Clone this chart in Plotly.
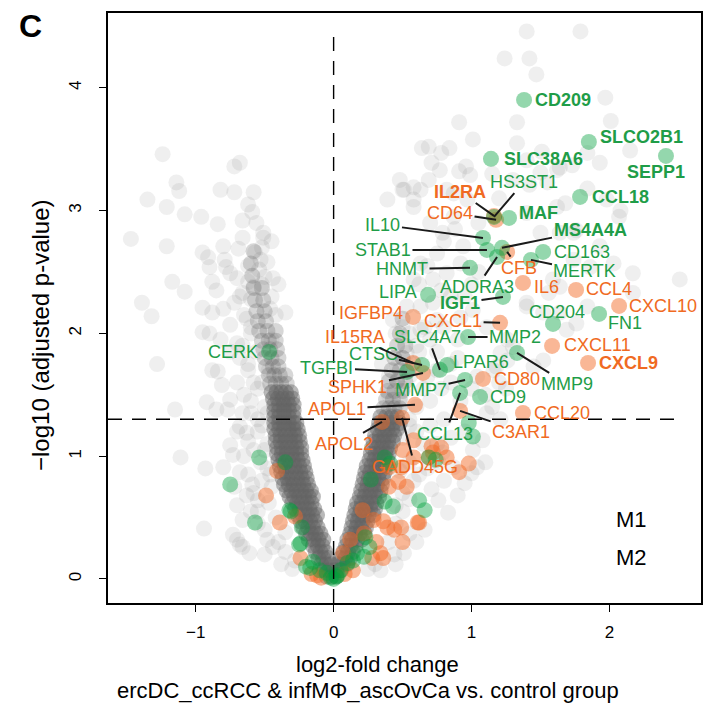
import math
import plotly.graph_objects as go

# ---------------- data ----------------
# M2 genes (green), labelled
m2_genes = ["CD209", "SLCO2B1", "SEPP1", "SLC38A6", "CCL18", "MAF", "HS3ST1", "IL10", "STAB1", "MS4A4A",
            "ADORA3", "CD163", "MERTK", "HNMT", "LIPA", "IGF1", "CD204", "FN1", "MMP2", "MMP9",
            "LPAR6", "MMP7", "CCL13", "CD9", "SLC4A7", "TGFBI", "CTSC", "CERK"]
m2_lfc = [1.381, 1.851, 2.410, 1.141, 1.787, 1.272, 1.163, 1.083, 1.112, 1.221,
          1.185, 1.519, 1.431, 0.989, 0.685, 1.228, 1.591, 1.925, 0.975, 1.330,
          0.823, 0.953, 0.917, 1.062, 0.771, 0.532, 0.641, -0.468]
m2_p = [3.902, 3.560, 3.446, 3.422, 3.112, 2.941, 2.949, 2.778, 2.680, 2.697,
        2.623, 2.664, 2.599, 2.534, 2.314, 2.297, 2.077, 2.159, 1.971, 1.841,
        1.743, 1.621, 1.515, 1.483, 1.703, 1.686, 1.743, 1.849]

# M1 genes (orange), labelled
m1_genes = ["IL2RA", "CD64", "CFB", "IL6", "CCL4", "CXCL10", "CXCL1", "CXCL11", "CXCL9", "CD80",
            "CCL20", "C3AR1", "IGFBP4", "IL15RA", "SPHK1", "APOL1", "APOL2", "GADD45G"]
m1_lfc = [1.163, 1.178, 1.258, 1.373, 1.758, 2.070, 1.207, 1.584, 1.845, 1.083,
          1.373, 0.917, 0.576, 0.576, 0.648, 0.590, 0.351, 0.496]
m1_p = [2.957, 2.925, 2.664, 2.411, 2.354, 2.224, 2.086, 1.898, 1.760, 1.629,
        1.352, 1.369, 2.134, 1.760, 1.678, 1.418, 1.279, 1.312]

bold_genes = ["CD209", "SLCO2B1", "SEPP1", "SLC38A6", "CCL18", "MAF", "MS4A4A", "IGF1", "IL2RA", "CXCL9"]

# M2 genes (green), not labelled
m2_other = [(-0.54, 0.99), (-0.35, 0.95), (-0.75, 0.77), (-0.57, 0.46), (-0.31, 0.55), (-0.23, 0.42),
            (-0.25, 0.28), (-0.15, 0.14), (-0.17, 0.09), (-0.02, 0.01), (-0.20, 0.10), (-0.10, 0.07),
            (-0.05, 0.05), (0.02, 0.02), (0.37, 0.99), (0.41, 0.94), (0.27, 0.81), (0.37, 0.63),
            (0.43, 0.59), (0.62, 0.64), (0.66, 0.56), (0.69, 0.99), (0.74, 0.97), (0.23, 0.34),
            (0.17, 0.21), (0.22, 0.18), (0.10, 0.13), (0.05, 0.07), (0.14, 0.15), (0.26, 0.26),
            (0.98, 1.27), (1.01, 1.16), (-0.24, 0.29), (-0.32, 0.56), (0.00, 0.00), (0.03, 0.03)]

# M1 genes (orange), not labelled
m1_other = [(-0.41, 0.88), (-0.49, 0.68), (-0.39, 0.46), (-0.28, 0.51), (-0.24, 0.17), (-0.16, 0.04),
            (-0.09, 0.01), (0.21, 0.56), (0.29, 0.48), (0.36, 0.47), (0.39, 0.42), (0.44, 0.40),
            (0.49, 0.42), (0.50, 0.30), (0.62, 0.46), (0.22, 0.37), (0.31, 0.30), (0.40, 0.75),
            (0.47, 0.79), (0.53, 0.75), (0.49, 0.91), (0.58, 0.99), (0.69, 0.99), (0.82, 0.99),
            (0.98, 0.94), (0.71, 1.08), (0.78, 1.07), (0.12, 0.32), (0.07, 0.21), (0.40, 0.91),
            (0.50, 1.05), (0.58, 1.13), (0.91, 0.87), (0.61, 0.46), (0.36, 0.17), (0.28, 0.17),
            (0.34, 0.21), (0.14, 0.07), (0.08, 0.04), (-0.12, 0.03), (0.72, 1.03)]

# other genes: dense V-shaped core, one row of log2FC values per -log10 p level
core_left_rows = [
    (0.02, [-0.05, -0.015, 0.02]),
    (0.07, [-0.07, -0.035, 0.0]),
    (0.12, [-0.09, -0.055, -0.02]),
    (0.17, [-0.11, -0.075, -0.04]),
    (0.22, [-0.13, -0.095, -0.06]),
    (0.27, [-0.15, -0.115, -0.08]),
    (0.32, [-0.18, -0.145, -0.11, -0.075]),
    (0.37, [-0.20, -0.165, -0.13, -0.095]),
    (0.42, [-0.22, -0.185, -0.15, -0.115]),
    (0.47, [-0.24, -0.205, -0.17, -0.135]),
    (0.52, [-0.26, -0.225, -0.19, -0.155, -0.12]),
    (0.57, [-0.28, -0.245, -0.21, -0.175, -0.14]),
    (0.62, [-0.30, -0.265, -0.23, -0.195, -0.16]),
    (0.67, [-0.32, -0.285, -0.25, -0.215, -0.18, -0.15]),
    (0.72, [-0.34, -0.305, -0.27, -0.235, -0.20, -0.165]),
    (0.77, [-0.36, -0.325, -0.29, -0.255, -0.22, -0.185]),
    (0.82, [-0.37, -0.335, -0.30, -0.265, -0.23, -0.195]),
    (0.87, [-0.38, -0.345, -0.31, -0.275, -0.24, -0.205]),
    (0.92, [-0.39, -0.355, -0.32, -0.285, -0.25, -0.215]),
    (0.97, [-0.40, -0.365, -0.33, -0.295, -0.26, -0.225]),
    (1.02, [-0.41, -0.375, -0.34, -0.305, -0.27, -0.235]),
    (1.07, [-0.41, -0.375, -0.34, -0.305, -0.27, -0.235]),
    (1.12, [-0.42, -0.385, -0.35, -0.315, -0.28, -0.245]),
    (1.17, [-0.42, -0.385, -0.35, -0.315, -0.28, -0.25]),
    (1.22, [-0.43, -0.395, -0.36, -0.325, -0.29, -0.26]),
    (1.27, [-0.43, -0.395, -0.36, -0.325, -0.29, -0.27]),
    (1.32, [-0.43, -0.395, -0.36, -0.325, -0.29]),
    (1.37, [-0.43, -0.395, -0.36, -0.325, -0.29]),
    (1.42, [-0.43, -0.395, -0.36, -0.325, -0.29]),
    (1.47, [-0.44, -0.405, -0.37, -0.335, -0.30]),
    (1.52, [-0.45, -0.415, -0.38, -0.345, -0.31]),
    (1.59, [-0.46, -0.42, -0.38, -0.34]),
    (1.66, [-0.47, -0.43, -0.39, -0.35]),
    (1.73, [-0.49, -0.44, -0.40]),
    (1.80, [-0.50, -0.45, -0.40]),
    (1.87, [-0.51, -0.46, -0.41]),
    (1.94, [-0.52, -0.47, -0.42]),
    (2.02, [-0.54, -0.48, -0.42]),
    (2.10, [-0.55, -0.49]),
    (2.18, [-0.56, -0.50]),
    (2.27, [-0.57, -0.51]),
    (2.37, [-0.58, -0.52]),
    (2.47, [-0.59]),
    (2.57, [-0.60]),
    (2.67, [-0.58]),
]
core_right_rows = [
    (0.07, [0.02, 0.055]),
    (0.12, [0.03, 0.065, 0.10]),
    (0.17, [0.05, 0.085, 0.12]),
    (0.22, [0.07, 0.105, 0.14]),
    (0.27, [0.09, 0.125, 0.16]),
    (0.32, [0.10, 0.135, 0.17, 0.205]),
    (0.37, [0.12, 0.155, 0.19, 0.225]),
    (0.42, [0.13, 0.165, 0.20, 0.235]),
    (0.47, [0.14, 0.175, 0.21, 0.245]),
    (0.52, [0.15, 0.185, 0.22, 0.255, 0.29]),
    (0.57, [0.16, 0.195, 0.23, 0.265, 0.30]),
    (0.62, [0.17, 0.205, 0.24, 0.275, 0.31]),
    (0.67, [0.19, 0.225, 0.26, 0.295, 0.33]),
    (0.72, [0.20, 0.235, 0.27, 0.305, 0.34]),
    (0.77, [0.21, 0.245, 0.28, 0.315, 0.35]),
    (0.82, [0.22, 0.255, 0.29, 0.325, 0.36]),
    (0.87, [0.23, 0.265, 0.30, 0.335, 0.37]),
    (0.92, [0.24, 0.275, 0.31, 0.345, 0.38]),
    (0.97, [0.26, 0.295, 0.33, 0.365, 0.39]),
    (1.02, [0.27, 0.305, 0.34, 0.375, 0.40]),
    (1.07, [0.28, 0.315, 0.35, 0.385, 0.41]),
    (1.12, [0.29, 0.325, 0.36, 0.395, 0.43]),
    (1.17, [0.30, 0.335, 0.37, 0.405, 0.44]),
    (1.22, [0.32, 0.355, 0.39, 0.425, 0.46]),
    (1.27, [0.33, 0.365, 0.40, 0.435, 0.48]),
    (1.32, [0.34, 0.38, 0.42, 0.46]),
    (1.39, [0.36, 0.40, 0.44, 0.48]),
    (1.46, [0.38, 0.43, 0.48]),
    (1.53, [0.39, 0.44, 0.50]),
    (1.61, [0.40, 0.46, 0.52]),
    (1.70, [0.42, 0.48, 0.54]),
    (1.80, [0.44, 0.50]),
    (1.90, [0.46, 0.52]),
    (2.00, [0.48]),
    (2.12, [0.50]),
]

# other genes, scattered around the core
grey_scatter = [
    (-1.24, 3.46), (-1.14, 3.23), (-1.12, 3.16), (-1.35, 3.09), (-1.21, 3.03), (-1.08, 2.97), (-0.96, 2.95),
    (-0.84, 2.89), (-1.47, 2.77), (-1.21, 2.71), (-0.72, 3.36), (-0.68, 3.39), (-0.82, 3.17), (-0.72, 3.15),
    (-0.58, 3.15), (-0.59, 2.99), (-0.66, 2.92), (-0.51, 2.82), (-0.51, 2.78), (-0.66, 2.78), (-0.80, 2.71),
    (-0.69, 2.69), (-0.95, 2.66), (-0.57, 2.66), (-0.90, 2.54), (-0.78, 2.54), (-0.79, 2.60), (-1.17, 2.42),
    (-1.08, 2.34), (-0.88, 2.42), (-0.85, 2.35), (-0.66, 2.33), (-0.58, 2.38), (-0.50, 2.46), (-1.39, 2.25),
    (-1.32, 2.14), (-0.95, 2.21), (-0.88, 2.17), (-0.35, 2.17), (-0.91, 2.62), (-0.75, 2.49), (-0.52, 2.70),
    (-0.53, 2.60), (-0.54, 2.52), (-0.52, 2.40), (-0.62, 2.55), (-0.70, 2.45), (-0.60, 2.28), (-0.72, 2.25),
    (-0.80, 2.20), (-0.63, 2.12), (-0.75, 2.07), (-0.95, 2.01), (-0.90, 2.00), (-0.82, 1.95), (-0.70, 1.92),
    (-0.60, 2.05), (-0.45, 2.30), (-0.42, 2.15), (-0.44, 2.45),
    (-1.28, 1.75), (-1.15, 1.38), (-0.92, 1.44), (-0.85, 1.38), (-0.77, 1.38), (-0.88, 1.70), (-0.84, 1.69),
    (-0.81, 1.58), (-0.75, 1.46), (-0.70, 1.60), (-0.68, 1.80), (-0.75, 1.85), (-0.62, 1.70), (-0.65, 1.50),
    (-0.60, 1.35), (-0.68, 1.24), (-0.63, 1.19), (-0.73, 1.01), (-0.75, 1.09), (-1.11, 0.99), (-0.93, 0.90),
    (-0.80, 0.91), (-0.68, 0.87), (-0.63, 0.68), (-0.59, 0.77), (-0.55, 0.64), (-0.94, 0.41), (-0.73, 0.36),
    (-0.68, 0.28), (-0.66, 0.48), (-0.48, 0.32), (-0.44, 0.26), (-0.60, 0.55), (-0.55, 0.45), (-0.50, 0.20),
    (-0.38, 0.12), (-0.30, 0.08), (-0.58, 1.05), (-0.55, 1.20), (-0.53, 0.95), (-0.52, 0.80), (-0.47, 0.62),
    (-0.42, 0.50), (-0.35, 0.38), (-0.70, 0.32), (-0.66, 0.26), (-0.61, 0.21), (-0.50, 1.40), (-0.52, 1.60),
    (-0.48, 1.10), (-0.46, 0.85),
    (-0.50, 0.40), (-0.55, 0.55), (-0.58, 0.70), (-0.62, 0.85), (-0.65, 1.00), (-0.62, 1.12), (-0.55, 1.30),
    (-0.60, 1.45), (-0.58, 1.60), (-0.62, 1.75), (-0.66, 1.90), (-0.45, 0.75), (-0.48, 0.90), (-0.50, 1.05),
    (-0.52, 1.25), (-0.48, 1.35), (-0.40, 0.30), (-0.35, 0.22), (-0.28, 0.15), (-0.70, 0.60), (-0.72, 0.75),
    (-0.70, 1.20), (-0.66, 1.35), (-0.55, 1.55), (-0.56, 1.85), (-0.60, 2.00), (-0.65, 2.15), (-0.68, 2.30),
    (-0.62, 2.42), (-0.47, 1.70), (-0.45, 1.95), (-0.46, 2.20), (-0.40, 2.40), (-0.48, 2.58), (-0.45, 2.75),
    (-0.56, 2.90), (-0.62, 3.05),
    (1.40, 4.46), (1.79, 4.46), (1.24, 4.24), (1.42, 4.24), (1.47, 4.11), (1.97, 3.92), (0.91, 3.72),
    (1.33, 3.72), (2.01, 3.73), (0.64, 3.51), (0.69, 3.52), (0.78, 3.47), (0.84, 3.51), (0.71, 3.39),
    (0.91, 3.32), (0.96, 3.36), (0.99, 3.29), (0.69, 3.25), (0.50, 3.17), (1.51, 3.48), (1.73, 3.37),
    (2.15, 3.49), (1.84, 3.18), (1.42, 3.21), (1.64, 3.35), (0.58, 3.19), (0.51, 3.17), (2.51, 2.44),
    (1.68, 3.06), (1.74, 2.82), (2.07, 2.95), (2.17, 2.49), (1.56, 2.33), (1.64, 2.38),
    (0.58, 3.03), (0.39, 3.09), (0.63, 3.17), (0.87, 3.14), (0.97, 3.09), (0.70, 2.90), (0.79, 2.82),
    (0.87, 2.95), (0.94, 2.71), (0.92, 2.57), (0.82, 2.49), (0.72, 2.44), (0.63, 2.57), (0.58, 2.44),
    (0.53, 2.22), (0.63, 2.22), (0.75, 2.11), (0.92, 2.13), (1.01, 2.19), (1.11, 2.05), (1.26, 1.95),
    (1.30, 1.89), (1.26, 1.78), (1.16, 1.70), (1.04, 1.65), (0.63, 2.03), (0.50, 2.05), (0.43, 2.11),
    (0.53, 1.84), (0.46, 1.73), (1.84, 3.47), (1.93, 3.39), (1.62, 3.33), (1.55, 3.23), (1.62, 3.03),
    (1.98, 3.09), (2.08, 3.00), (1.40, 2.98), (1.50, 2.82), (1.64, 2.82), (1.76, 2.84), (1.93, 2.71),
    (1.74, 2.60), (1.86, 2.54), (2.03, 2.57), (1.59, 2.44), (2.17, 2.33), (1.84, 2.22), (1.64, 2.17),
    (1.40, 2.22), (1.52, 2.17), (0.48, 3.25), (0.58, 3.09), (0.77, 3.33), (0.82, 3.17), (1.01, 3.58),
    (1.33, 3.55), (1.40, 3.41), (1.50, 3.31), (1.40, 2.25), (1.69, 2.03), (1.76, 2.08), (1.52, 1.78),
    (1.45, 1.73), (1.21, 1.84), (1.18, 1.73), (1.11, 1.35), (1.21, 1.30), (1.08, 1.13), (1.01, 1.05),
    (0.79, 1.03), (0.87, 0.91), (1.04, 0.91), (0.83, 0.54), (0.76, 0.64), (0.71, 0.73), (0.95, 0.78),
    (1.00, 0.86), (0.44, 0.20), (0.51, 0.21), (0.34, 0.07), (0.60, 0.30), (0.66, 0.40), (0.55, 0.37),
    (0.90, 0.68), (0.80, 0.80), (0.45, 1.40), (0.50, 1.55), (0.40, 1.65), (0.35, 1.75), (0.55, 1.30),
    (0.60, 1.20), (0.65, 1.10), (0.55, 0.95), (0.62, 0.85), (0.50, 0.70), (0.45, 0.60), (0.70, 1.45),
    (0.80, 1.30), (0.85, 1.15), (0.68, 1.65), (0.60, 1.90), (0.75, 1.85), (0.90, 1.80), (0.85, 2.30),
    (1.00, 2.40), (1.05, 2.90), (1.20, 3.10), (1.30, 3.25), (1.15, 3.30),
    (0.40, 0.30), (0.45, 0.45), (0.50, 0.55), (0.55, 0.65), (0.58, 0.80), (0.48, 0.88), (0.50, 1.15),
    (0.55, 1.25), (0.60, 1.40), (0.65, 1.55), (0.55, 1.65), (0.58, 1.75), (0.62, 1.85), (0.70, 1.95),
    (0.66, 2.05), (0.72, 2.25), (0.78, 2.35), (0.68, 2.55), (0.75, 2.65), (0.80, 2.75), (0.88, 2.85),
    (0.85, 1.60), (0.78, 1.55), (0.75, 1.70), (0.85, 1.75), (0.90, 1.95), (0.80, 2.05), (0.95, 2.30),
    (1.05, 2.50), (0.70, 1.25), (0.75, 1.10), (0.68, 0.90), (0.76, 0.95), (0.30, 0.12), (0.25, 0.08),
    (0.45, 0.12), (0.40, 1.50), (0.46, 1.62), (0.50, 1.80), (0.55, 2.00), (0.45, 2.00), (0.62, 2.40),
    (0.92, 1.45), (1.00, 1.55), (1.10, 1.50), (1.15, 1.40), (1.25, 1.55), (1.20, 1.60), (0.95, 1.20),
    (1.10, 0.95),
]

padj_cut = 0.05
x_tick_vals = [-1, 0, 1, 2]
x_tick_text = ["\u22121", "0", "1", "2"]
y_tick_vals = [0, 1, 2, 3, 4]
y_tick_text = ["0", "1", "2", "3", "4"]

# ---------------- styling / layout ----------------
FONT = "Liberation Sans, Arial, Helvetica, sans-serif"
GREEN_TXT = "#1f9d48"
ORANGE_TXT = "#f06a22"
GREEN_PT = "rgba(0,160,60,0.42)"
ORANGE_PT = "rgba(242,105,35,0.48)"
MS = 16
XR = [-1.636, 2.664]
YR = [-0.196, 4.61]

# split the core into the saturated lower part and the thinner upper tail (different shading)
dense_x, dense_y, tail_x, tail_y = [], [], [], []
for rows, ycut in ((core_left_rows, 1.55), (core_right_rows, 1.35)):
    for yv, xs in rows:
        if yv <= ycut:
            dense_x += xs
            dense_y += [yv] * len(xs)
        else:
            tail_x += xs
            tail_y += [yv] * len(xs)

fig = go.Figure()
fig.add_trace(go.Scatter(x=[p[0] for p in grey_scatter], y=[p[1] for p in grey_scatter], mode="markers",
                         marker=dict(size=MS, color="rgba(102,102,102,0.10)", line=dict(width=0)),
                         hoverinfo="skip"))
fig.add_trace(go.Scatter(x=tail_x, y=tail_y, mode="markers",
                         marker=dict(size=MS, color="rgba(100,100,100,0.26)", line=dict(width=0)),
                         hoverinfo="skip"))
fig.add_trace(go.Scatter(x=dense_x, y=dense_y, mode="markers",
                         marker=dict(size=MS, color="rgba(100,100,100,0.45)", line=dict(width=0)),
                         hoverinfo="skip"))
fig.add_trace(go.Scatter(x=[p[0] for p in m1_other] + m1_lfc, y=[p[1] for p in m1_other] + m1_p,
                         mode="markers", marker=dict(size=MS, color=ORANGE_PT, line=dict(width=0))))
fig.add_trace(go.Scatter(x=[p[0] for p in m2_other] + m2_lfc, y=[p[1] for p in m2_other] + m2_p,
                         mode="markers", marker=dict(size=MS, color=GREEN_PT, line=dict(width=0))))

# threshold lines
thr = -math.log10(padj_cut)
all_x = [p[0] for p in grey_scatter] + m1_lfc + m2_lfc
all_y = [p[1] for p in grey_scatter] + m1_p + m2_p
fig.add_trace(go.Scatter(x=[XR[0], max(all_x)], y=[thr, thr], mode="lines",
                         line=dict(color="black", width=1.4, dash="14px,10px"), hoverinfo="skip"))
fig.add_trace(go.Scatter(x=[0, 0], y=[YR[0], max(all_y)], mode="lines",
                         line=dict(color="black", width=1.4, dash="14px,10px"), hoverinfo="skip"))

# label placement: arrows (ax, ay in px) or side labels (anchor, xshift, yshift)
arrow_pos = {
    "HS3ST1": (30, -35), "IL2RA": (-34, -24), "CD64": (-46, -7), "IL10": (-100, -13),
    "STAB1": (-104, 0), "HNMT": (-68, 1), "ADORA3": (-20, 30), "CFB": (12, 16), "MERTK": (54, 11),
    "MS4A4A": (88, -18), "IGF1": (-43, 6), "CXCL1": (-47, -2), "MMP2": (47, 0), "MMP9": (50, 31),
    "MMP7": (-44, 10), "SLC4A7": (-12, -33), "CCL13": (-15, 41), "C3AR1": (61, 21),
    "IL15RA": (-58, -26), "CTSC": (-49, -11), "TGFBI": (-80, -4), "SPHK1": (-65, 14),
    "APOL1": (-78, 4), "APOL2": (-38, 22), "GADD45G": (13, 49),
}
side_pos = {
    "CD209": ("left", 9, 0), "SLCO2B1": ("left", 9, 5), "SEPP1": ("center", -10, -16),
    "SLC38A6": ("left", 11, 0), "CCL18": ("left", 10, 0), "MAF": ("left", 8, 5),
    "CD163": ("left", 9, 0), "IL6": ("left", 9, -4), "CCL4": ("left", 8, 1), "CXCL10": ("left", 8, 0),
    "LIPA": ("right", -9, 3), "CD204": ("center", 4, 12), "FN1": ("left", 7, -9),
    "LPAR6": ("left", 4, 3), "CD9": ("left", 8, 0), "CD80": ("left", 9, 0), "CCL20": ("left", 9, 0),
    "CXCL11": ("left", 10, 1), "CXCL9": ("left", 9, 0), "IGFBP4": ("right", -8, 4), "CERK": ("right", -9, 0),
}

annos = []
for genes, xs, ys, col in [(m2_genes, m2_lfc, m2_p, GREEN_TXT), (m1_genes, m1_lfc, m1_p, ORANGE_TXT)]:
    for g, x, y in zip(genes, xs, ys):
        txt = f"<b>{g}</b>" if g in bold_genes else g
        f = dict(family=FONT, size=18, color=col)
        if g in arrow_pos:
            ax, ay = arrow_pos[g]
            annos.append(dict(x=x, y=y, xref="x", yref="y", text=txt, font=f, showarrow=True,
                              ax=ax, ay=ay, arrowhead=0, arrowwidth=2, arrowcolor="#1a1a1a",
                              standoff=0, startstandoff=1, borderpad=0))
        else:
            anc, dx, dy = side_pos[g]
            annos.append(dict(x=x, y=y, xref="x", yref="y", text=txt, font=f, showarrow=False,
                              xanchor=anc, yanchor="middle", xshift=dx, yshift=dy))

L, R, T, B = 108, 14, 13, 116
W, H = 715, 719
pw, ph = W - L - R, H - T - B
def px(xp):
    return (xp - L) / pw
def py(yp):
    return (H - B - yp) / ph

annos += [
    dict(x=px(30), y=py(26), xref="paper", yref="paper", text="<b>C</b>", showarrow=False,
         font=dict(family=FONT, size=32, color="black"), xanchor="center", yanchor="middle"),
    dict(x=px(377), y=py(664), xref="paper", yref="paper", text="log2-fold change", showarrow=False,
         font=dict(family=FONT, size=22, color="black"), xanchor="center", yanchor="middle"),
    dict(x=px(368), y=py(690), xref="paper", yref="paper",
         text="ercDC_ccRCC &amp; infM\u03a6_ascOvCa vs. control group", showarrow=False,
         font=dict(family=FONT, size=22, color="black"), xanchor="center", yanchor="middle"),
    dict(x=px(40), y=py(335), xref="paper", yref="paper", text="\u2212log10 (adjusted p-value)",
         showarrow=False, textangle=-90, font=dict(family=FONT, size=24, color="black"),
         xanchor="center", yanchor="middle"),
    dict(x=px(614), y=py(519), xref="paper", yref="paper", text="M1", showarrow=False,
         font=dict(family=FONT, size=22, color="black"), xanchor="left", yanchor="middle"),
    dict(x=px(614), y=py(557), xref="paper", yref="paper", text="M2", showarrow=False,
         font=dict(family=FONT, size=22, color="black"), xanchor="left", yanchor="middle"),
]

axis_common = dict(showgrid=False, zeroline=False, showline=True, mirror=True, linecolor="black",
                   linewidth=1.5, ticks="outside", ticklen=7, tickwidth=1.3, tickcolor="black",
                   tickfont=dict(family=FONT, size=17, color="black"))
fig.update_layout(
    width=W, height=H, margin=dict(l=L, r=R, t=T, b=B), showlegend=False,
    plot_bgcolor="white", paper_bgcolor="white",
    xaxis=dict(range=XR, tickvals=x_tick_vals, ticktext=x_tick_text, ticklabelstandoff=6, **axis_common),
    yaxis=dict(range=YR, tickvals=y_tick_vals, ticktext=y_tick_text, tickangle=-90,
               ticklabelstandoff=11, **axis_common),
    annotations=annos,
)
fig.write_html("out.html")
